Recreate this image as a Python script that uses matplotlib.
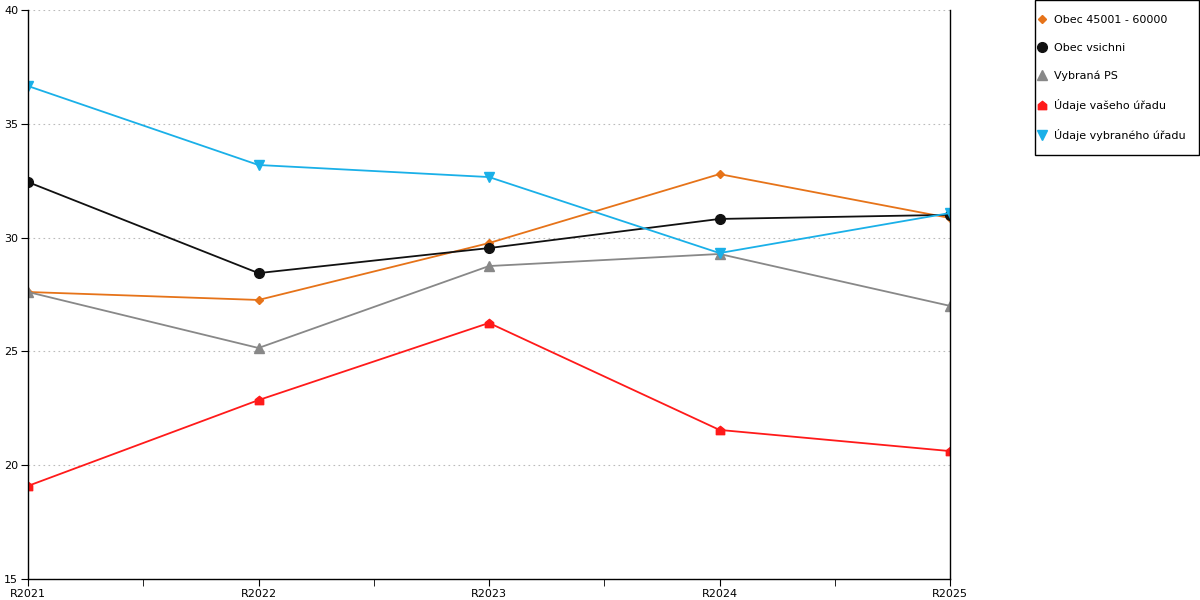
import numpy as np
import matplotlib.pyplot as plt
from matplotlib.path import Path
from matplotlib.patches import Rectangle

years = ["R2021", "R2022", "R2023", "R2024", "R2025"]
obec_45 = [27.61, 27.26, 29.76, 32.79, 30.86]
obec_all = [32.44, 28.44, 29.54, 30.82, 31.0]
vybrana_ps = [27.61, 25.15, 28.75, 29.28, 27.0]
vas_urad = [19.09, 22.86, 26.25, 21.55, 20.62]
vybrany_urad = [36.66, 33.19, 32.66, 29.32, 31.08]

# house shaped marker for the red series
house = Path([(-1, -1), (1, -1), (1, 0.2), (0, 1), (-1, 0.2), (-1, -1)],
             [Path.MOVETO] + [Path.LINETO] * 4 + [Path.CLOSEPOLY])

plt.rcParams['font.family'] = ['DejaVu Sans']
fig = plt.figure(figsize=(12, 6), dpi=100)
ax = fig.add_axes([28 / 1200, 21 / 600, 922 / 1200, 569 / 600])

x = np.arange(len(years))
ax.plot(x, obec_45, color='#e67319', marker='D', ms=4.5, lw=1.3, label='Obec 45001 - 60000')
ax.plot(x, obec_all, color='#111111', marker='o', ms=7, lw=1.3, label='Obec vsichni')
ax.plot(x, vybrana_ps, color='#888888', marker='^', ms=7, lw=1.3, label='Vybraná PS')
ax.plot(x, vas_urad, color='#ff1a1a', marker=house, ms=6, lw=1.3, label='Údaje vašeho úřadu')
ax.plot(x, vybrany_urad, color='#1ab0e8', marker='v', ms=7, lw=1.3, label='Údaje vybraného úřadu')

ax.set_xlim(0, 4)
ax.set_ylim(15, 40)
ax.set_xticks(x)
ax.set_xticklabels(years, fontsize=8)
ax.set_xticks(x[:-1] + 0.5, minor=True)
ax.set_yticks([15, 20, 25, 30, 35, 40])
ax.tick_params(axis='y', labelsize=8, length=5, direction='out', pad=2)
ax.tick_params(axis='x', which='both', length=5, direction='out', pad=2)
ax.grid(axis='y', color='#bbbbbb', ls=(0, (1.5, 3)), lw=0.8)
ax.spines['top'].set_visible(False)
for s in ['left', 'bottom', 'right']:
    ax.spines[s].set_color('black')
    ax.spines[s].set_linewidth(1)

# legend box drawn separately so the padding matches
fig.patches.append(Rectangle((1034.5 / 1200, 1 - 155 / 600), 164 / 1200, 154.5 / 600,
                             transform=fig.transFigure, fill=False,
                             edgecolor='black', lw=1))
leg = ax.legend(loc='upper left', bbox_to_anchor=(1038 / 1200, 1 - 15 / 600),
                bbox_transform=fig.transFigure, fontsize=8, frameon=False,
                labelspacing=1.6, handlelength=0.8, handletextpad=0.6,
                borderpad=0, borderaxespad=0)
for h in leg.get_lines():
    h.set_linestyle('none')

fig.savefig('out.png', dpi=100)
